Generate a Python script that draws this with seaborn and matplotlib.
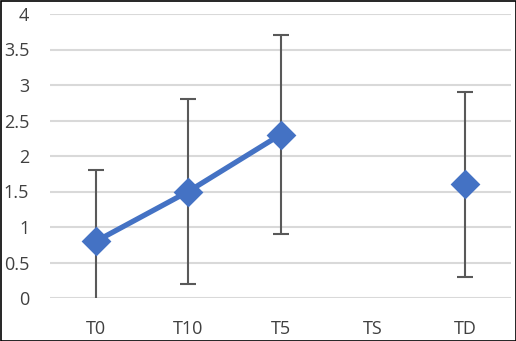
import numpy as np
import pandas as pd
import matplotlib
matplotlib.use("Agg")
import matplotlib.pyplot as plt
import seaborn as sns

categories = ["T0", "T10", "T5", "TS", "TD"]
values = [0.8, 1.5, 2.3, np.nan, 1.6]
errors = [1.0, 1.3, 1.4, np.nan, 1.3]
segments = [0, 0, 0, 1, 2]

sns.set_theme(style="white")
plt.rcParams["font.family"] = ["Open Sans", "DejaVu Sans"]

W, H = 516, 341
fig = plt.figure(figsize=(W / 100, H / 100), dpi=100)
ax = fig.add_axes([50 / W, (H - 298) / H, 461 / W, 284 / H])

df = pd.DataFrame({"pos": np.arange(len(categories)), "val": values,
                   "err": errors, "seg": segments})
d = df.dropna()

for y in np.arange(0, 4.01, 0.5):
    ax.axhline(y, color="#d9d9d9", lw=1.5, zorder=0)

ax.errorbar(d["pos"], d["val"], yerr=d["err"], fmt="none", ecolor="#595959",
            elinewidth=1.5, capsize=6, capthick=1.5, zorder=2)
sns.lineplot(data=d, x="pos", y="val", units="seg", estimator=None,
             color="#4472C4", lw=3.8, ax=ax, zorder=3)
sns.scatterplot(data=d, x="pos", y="val", marker="D", s=230, color="#4472C4",
                edgecolor="#4472C4", linewidth=0, ax=ax, zorder=4)

ax.set_xlim(-0.5, len(categories) - 0.5)
ax.set_ylim(0, 4)
ax.set_xticks(range(len(categories)))
ax.set_xticklabels(categories)
ax.set_yticks(np.arange(0, 4.01, 0.5))
ax.set_yticklabels(["0", "0.5", "1", "1.5", "2", "2.5", "3", "3.5", "4"])
ax.tick_params(axis="both", length=0, labelsize=13, colors="#404040")
ax.tick_params(axis="x", pad=16)
ax.tick_params(axis="y", pad=15)
ax.set_xlabel("")
ax.set_ylabel("")
for s in ax.spines.values():
    s.set_visible(False)

fig.patches.append(plt.Rectangle((0.5 / W, 0.5 / H), (W - 1) / W, (H - 1) / H,
                                 transform=fig.transFigure, fill=False,
                                 edgecolor="black", lw=1.2))
fig.savefig("out.png", dpi=100)
